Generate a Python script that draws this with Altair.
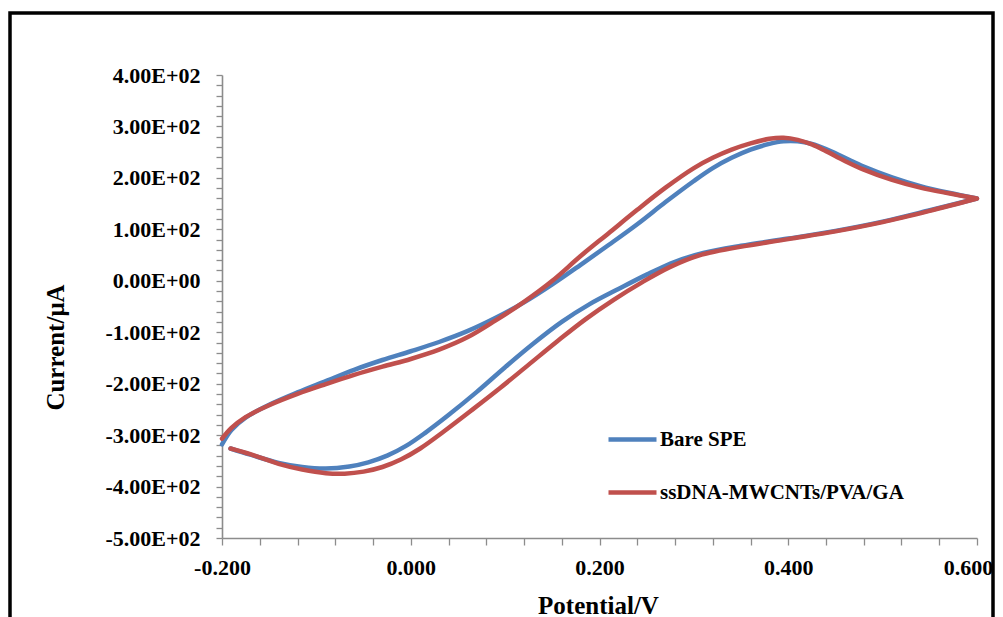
import altair as alt
import pandas as pd

SERIES = ["Bare SPE", "ssDNA-MWCNTs/PVA/GA"]
COLORS = ["#4F81BD", "#C0504D"]

# Bare SPE: lower branch (left -> right), then upper branch (right -> left)
bare_lower_x = [-0.191, -0.17, -0.14, -0.115, -0.09, -0.065, -0.045, -0.025, -0.005, 0.015, 0.04, 0.07,
                0.1, 0.13, 0.16, 0.19, 0.22, 0.25, 0.28, 0.31, 0.35, 0.4, 0.45, 0.5, 0.55, 0.6]
bare_lower_y = [-326, -338, -354, -362, -365, -361, -353, -340, -321, -296, -261, -216,
                -168, -122, -80, -45, -16, 12, 37, 54, 68, 82, 97, 115, 137, 160]
bare_upper_x = [0.6, 0.57, 0.54, 0.51, 0.48, 0.46, 0.44, 0.425, 0.41, 0.395, 0.38, 0.36, 0.34, 0.32,
                0.3, 0.27, 0.24, 0.21, 0.18, 0.15, 0.12, 0.09, 0.06, 0.03, 0.0, -0.03, -0.06,
                -0.09, -0.12, -0.15, -0.175, -0.19, -0.2]
bare_upper_y = [160, 171, 184, 201, 222, 239, 256, 266, 271, 271, 266, 255, 239, 219,
                194, 153, 110, 70, 31, -7, -42, -72, -98, -119, -137, -154, -173,
                -195, -217, -241, -266, -290, -318]

# ssDNA-MWCNTs/PVA/GA
mod_lower_x = [-0.191, -0.17, -0.14, -0.115, -0.09, -0.07, -0.05, -0.03, -0.01, 0.01, 0.035, 0.065,
               0.095, 0.125, 0.155, 0.185, 0.215, 0.245, 0.275, 0.305, 0.34, 0.4, 0.45, 0.5, 0.55, 0.6]
mod_lower_y = [-326, -337, -356, -367, -374, -375, -371, -362, -347, -326, -293, -251,
               -208, -163, -118, -75, -37, -3, 27, 49, 63, 81, 96, 114, 136, 160]
mod_upper_x = [0.6, 0.57, 0.54, 0.51, 0.48, 0.46, 0.44, 0.425, 0.41, 0.395, 0.38, 0.36, 0.34, 0.32,
               0.3, 0.27, 0.24, 0.21, 0.18, 0.15, 0.12, 0.09, 0.06, 0.03, 0.0, -0.03, -0.06,
               -0.09, -0.12, -0.15, -0.175, -0.19, -0.2]
mod_upper_y = [160, 170, 181, 196, 216, 233, 252, 265, 274, 278, 276, 267, 255, 239,
               219, 181, 138, 93, 48, 0, -41, -77, -110, -134, -152, -167, -183,
               -201, -220, -242, -265, -286, -307]

x_ticks = [round(-0.2 + 0.04 * i, 2) for i in range(21)]
y_ticks = list(range(-500, 401, 20))

rows = []
for name, xs, ys in [(SERIES[0], bare_lower_x + bare_upper_x, bare_lower_y + bare_upper_y),
                     (SERIES[1], mod_lower_x + mod_upper_x, mod_lower_y + mod_upper_y)]:
    for i, (xv, yv) in enumerate(zip(xs, ys)):
        rows.append({"series": name, "seq": i, "potential": xv, "current": yv})
df = pd.DataFrame(rows)

FONT = "Liberation Serif"
AXIS_GRAY = "#8c8c8c"

x_enc = alt.X(
    "potential:Q",
    scale=alt.Scale(domain=[-0.2, 0.6], nice=False, zero=False),
    axis=alt.Axis(
        title="Potential/V", values=x_ticks, grid=False,
        labelExpr="abs(round(datum.value*100)) % 20 == 0 ? (datum.value < -0.0001 ? '-' : '') + format(abs(datum.value), '.3f') : ''",
        labelFont=FONT, labelFontSize=22, labelFontWeight="bold", labelColor="black",
        labelPadding=12, tickSize=7, labelOverlap=False, labelFlush=False,
        labelOffset={"condition": {"test": "datum.value > 0.59", "value": -9}, "value": 0},
        titleFont=FONT, titleFontSize=25, titleFontWeight="bold", titleColor="black",
        titleX=376, titleY=75, titleBaseline="alphabetic", titleAnchor="start", titleAlign="center",
    ),
)
y_enc = alt.Y(
    "current:Q",
    scale=alt.Scale(domain=[-500, 400], nice=False, zero=False),
    axis=alt.Axis(
        title="Current/μA", values=y_ticks, grid=False,
        labelExpr="datum.value % 100 == 0 ? (datum.value == 0 ? '0.00E+00' : (datum.value < 0 ? '-' : '') + format(abs(datum.value)/100, '.2f') + 'E+02') : ''",
        labelFont=FONT, labelFontSize=22, labelFontWeight="bold", labelColor="black",
        labelPadding=16, tickSize=6, labelOverlap=False, labelFlush=False,
        titleFont=FONT, titleFontSize=25, titleFontWeight="bold", titleColor="black",
        titleX=-167, titleY=272, titleAngle=270, titleBaseline="middle", titleAlign="center",
        titleAnchor="start",
    ),
)
color_enc = alt.Color(
    "series:N",
    scale=alt.Scale(domain=SERIES, range=COLORS),
    legend=alt.Legend(
        title=None, orient="none", legendX=384, legendY=338,
        symbolType="stroke", symbolSize=2304, symbolStrokeWidth=4.5,
        labelFont=FONT, labelFontSize=21, labelFontWeight="bold", labelColor="black",
        labelLimit=600, rowPadding=16, padding=0, labelOffset=1,
    ),
)

lines = []
for s in SERIES:
    lines.append(
        alt.Chart(df[df["series"] == s])
        .mark_line(interpolate="catmull-rom", strokeWidth=4.5, strokeCap="round", strokeJoin="round")
        .encode(x=x_enc, y=y_enc, color=color_enc, order=alt.Order("seq:Q"))
    )

frame = (
    alt.Chart(pd.DataFrame({"k": [0]}))
    .mark_rect(filled=False, stroke="black", strokeWidth=3.5)
    .encode(x=alt.value(-212), x2=alt.value(771), y=alt.value(-62), y2=alt.value(580))
)

chart = (
    alt.layer(frame, *lines)
    .properties(width=755, height=463, autosize=alt.AutoSizeParams(type="none"),
                padding={"left": 214, "top": 67, "right": 18, "bottom": 79})
    .configure_view(stroke=None)
    .configure_axis(domainColor=AXIS_GRAY, tickColor=AXIS_GRAY, domainWidth=1.6, tickWidth=1.3)
)

chart.save("out.html", embed_options={"renderer": "svg", "actions": False})
